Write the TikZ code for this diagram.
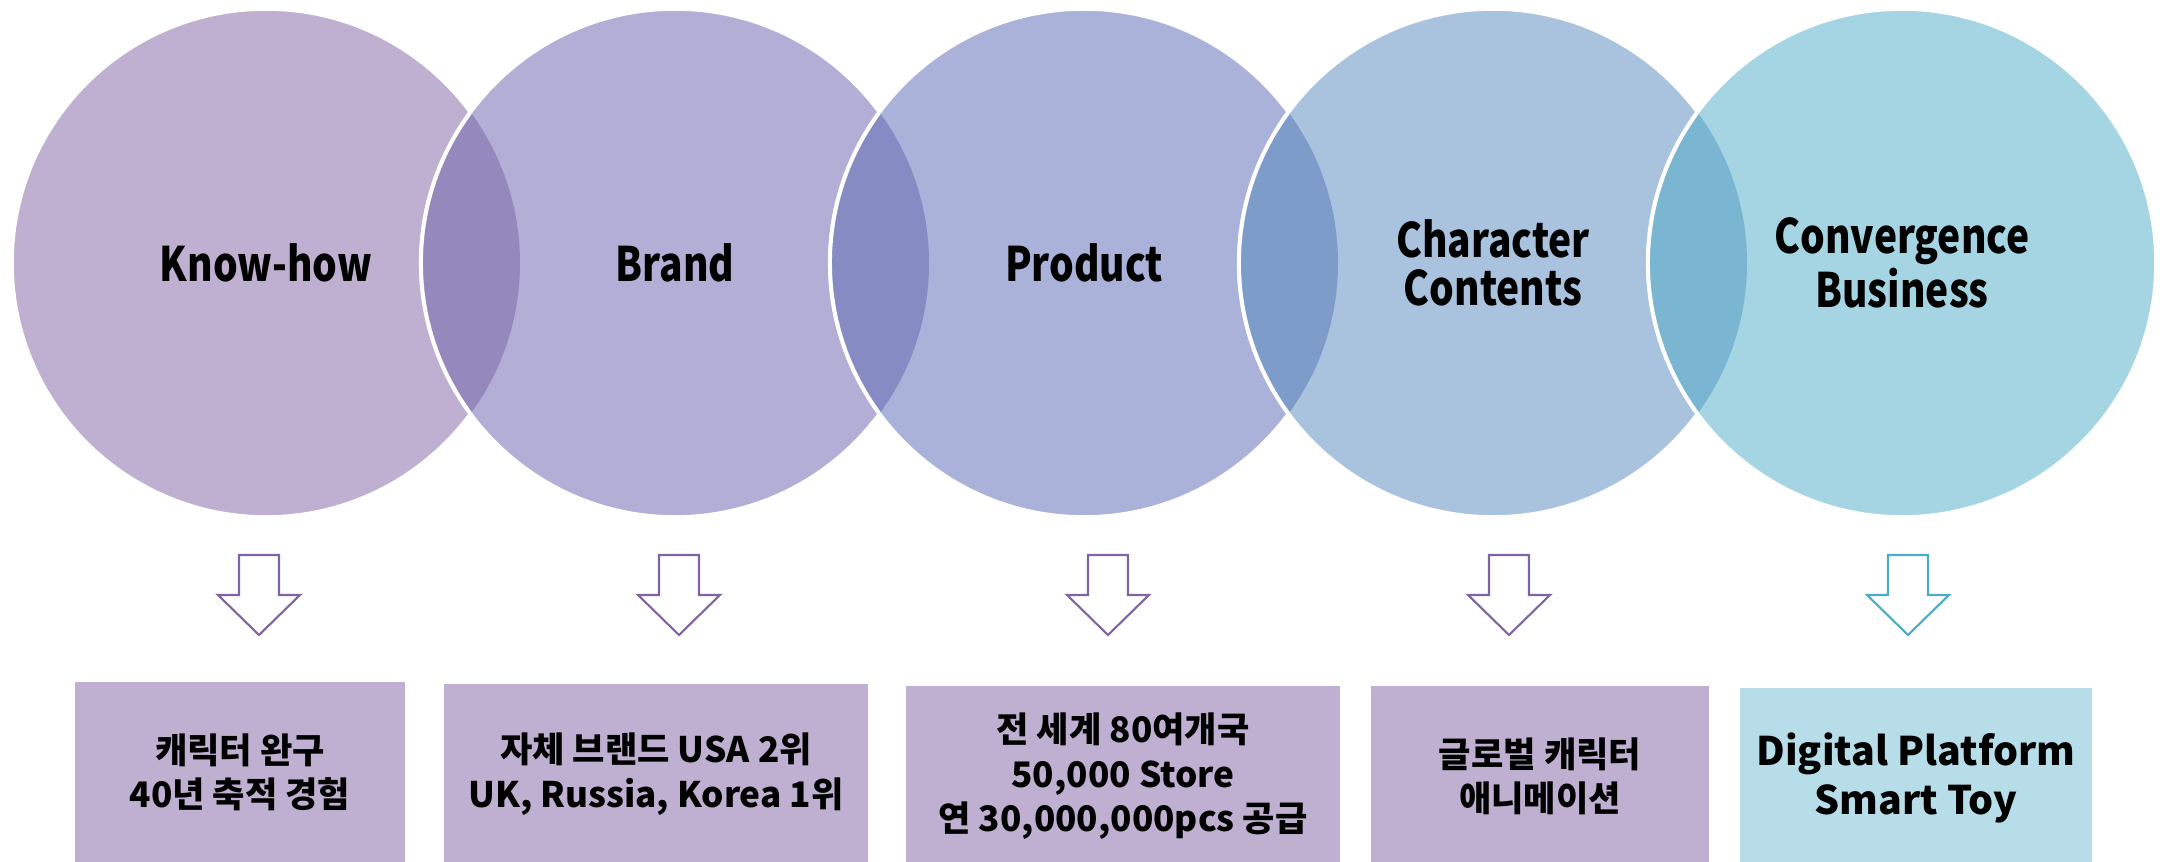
\documentclass[tikz,border=0pt]{standalone}
\usepackage{fontspec}
\setmainfont{Noto Sans CJK KR}
\newfontfamily\circfont{Noto Sans CJK KR}[FakeStretch=0.82]

\definecolor{circA}{HTML}{BFB0D1}
\definecolor{circB}{HTML}{B2AED6}
\definecolor{circC}{HTML}{AAB2D9}
\definecolor{circD}{HTML}{A9C3DE}
\definecolor{circE}{HTML}{A5D5E3}
\definecolor{lensA}{HTML}{9488BC}
\definecolor{lensB}{HTML}{868BC3}
\definecolor{lensC}{HTML}{7E9CCA}
\definecolor{lensD}{HTML}{7AB6D2}
\definecolor{boxP}{HTML}{BFB0D1}
\definecolor{boxT}{HTML}{B7DDE8}
\definecolor{arrP}{HTML}{8064A2}
\definecolor{arrT}{HTML}{4BACC6}

\begin{document}
\begin{tikzpicture}[x=0.01cm, y=-0.01cm,
  ring/.style={circle, draw=white, line width=1.1pt, minimum size=5.08cm, inner sep=0pt,
    align=center, font=\circfont\bfseries\fontsize{13.5}{13.6}\selectfont},
  infobox/.style={rectangle, anchor=north, inner sep=0pt, minimum height=1.81cm,
    align=center, font=\bfseries\fontsize{10}{12.6}\selectfont}]
\useasboundingbox (0,0) rectangle (2160,862);

\node[ring, fill=circA] (know) at (266,263) {Know-how};
\node[ring, fill=circB] (brand) at (675,263) {Brand};
\node[ring, fill=circC] (prod) at (1084,263) {Product};
\node[ring, fill=circD] (chara) at (1493,263) {Character\\Contents};
\node[ring, fill=circE] (conv) at (1902,263) {Convergence\\Business};

% overlaps
\foreach \a/\b/\col in {know/brand/lensA, brand/prod/lensB, prod/chara/lensC, chara/conv/lensD}
{
  \begin{scope}
    \clip (\a.center) circle (254);
    \fill[\col] (\b.center) circle (254);
    \draw[white, line width=1.1pt] (\b.center) circle (254);
  \end{scope}
}

% arrows
\foreach \x/\col in {259/arrP, 679/arrP, 1108/arrP, 1509/arrP, 1908/arrT}
{
  \draw[\col, line width=0.6pt, fill=white] (\x-20,555)--(\x+20,555)--(\x+20,595)--(\x+41,595)
    --(\x,635)--(\x-41,595)--(\x-20,595)--cycle;
}

\node[infobox, fill=boxP, minimum width=3.29cm] (b1) at (240,681) {캐릭터 완구\\40년 축적 경험};
\node[infobox, fill=boxP, minimum width=4.24cm] (b2) at (656,683) {자체 브랜드 USA 2위\\UK, Russia, Korea 1위};
\node[infobox, fill=boxP, minimum width=4.34cm] (b3) at (1123,685) {전 세계 80여개국\\50,000 Store\\연 30,000,000pcs 공급};
\node[infobox, fill=boxP, minimum width=3.38cm] (b4) at (1540,685) {글로벌 캐릭터\\애니메이션};
\node[infobox, fill=boxT, minimum width=3.52cm, font=\bfseries\fontsize{11.2}{14}\selectfont] (b5) at (1916,687) {Digital Platform\\Smart Toy};
\end{tikzpicture}
\end{document}
